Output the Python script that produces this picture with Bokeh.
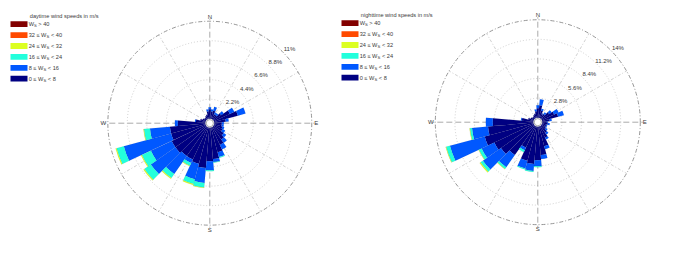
import math
from bokeh.plotting import figure
from bokeh.models import ColumnDataSource, Range1d
from bokeh.layouts import row
from bokeh.embed import file_html
from bokeh.resources import INLINE
from bokeh.core.properties import value

# ---------------- data ----------------
directions = [0, 10, 20, 30, 40, 50, 60, 70, 80, 90, 100, 110,
              120, 130, 140, 150, 160, 170, 180, 190, 200, 210, 220, 230,
              240, 250, 260, 270, 280, 290, 300, 310, 320, 330, 340, 350]

# legend rows (top to bottom): prefix, subscript, suffix
legend_rows = [("W", "S", "> 40"), ("32 \u2264 W", "S", "< 40"), ("24 \u2264 W", "S", "< 32"),
               ("16 \u2264 W", "S", "< 24"), ("8 \u2264 W", "S", "< 16"), ("0 \u2264 W", "S", "< 8")]
# colours of the speed classes 0-8, 8-16, 16-24, 24-32, 32-40, >40
class_colors = ["#000082", "#0058ff", "#22ffdc", "#dcff22", "#ff4a00", "#820000"]

day_title = "daytime wind speeds in m/s"
night_title = "nighttime wind speeds in m/s"

day_ticks = [2.2, 4.4, 6.6, 8.8, 11]
day_tick_labels = ["2.2%", "4.4%", "6.6%", "8.8%", "11%"]
night_ticks = [2.8, 5.6, 8.4, 11.2, 14]
night_tick_labels = ["2.8%", "5.6%", "8.4%", "11.2%", "14%"]

# frequencies in % per direction and speed class (daytime)
day_0_8 = [1.07, 0.85, 0.96, 0.62, 0.62, 1.07, 1.98, 2.77, 1.30, 0.85, 0.85, 0.96,
           1.07, 1.41, 1.75, 2.20, 2.88, 3.56, 3.78, 4.57, 4.23, 4.01, 4.01, 4.23,
           4.23, 4.01, 4.01, 3.10, 1.07, 0.62, 0.40, 0.28, 0.28, 0.40, 0.51, 0.85]
day_8_16 = [0.23, 0.23, 0.45, 0.23, 0.23, 0.34, 0.56, 0.90, 0.34, 0.23, 0.23, 0.23,
            0.34, 0.34, 0.45, 0.56, 0.56, 0.34, 1.02, 1.69, 1.81, 0.45, 2.48, 3.39,
            2.60, 5.53, 2.26, 0.34, 0.11, 0.00, 0.00, 0.00, 0.00, 0.00, 0.00, 0.23]
day_16_24 = [0.00, 0.00, 0.00, 0.00, 0.00, 0.00, 0.00, 0.00, 0.00, 0.00, 0.00, 0.00,
             0.00, 0.00, 0.00, 0.00, 0.11, 0.06, 0.11, 0.51, 0.56, 0.34, 0.56, 0.90,
             1.13, 0.85, 0.68, 0.00, 0.00, 0.00, 0.00, 0.00, 0.00, 0.00, 0.00, 0.00]
day_24_32 = [0.00, 0.00, 0.00, 0.00, 0.00, 0.00, 0.00, 0.00, 0.00, 0.00, 0.00, 0.00,
             0.00, 0.00, 0.00, 0.00, 0.00, 0.00, 0.00, 0.06, 0.11, 0.06, 0.11, 0.11,
             0.11, 0.11, 0.06, 0.00, 0.00, 0.00, 0.00, 0.00, 0.00, 0.00, 0.00, 0.00]
day_32_40 = [0.00, 0.00, 0.00, 0.00, 0.00, 0.00, 0.00, 0.00, 0.00, 0.00, 0.00, 0.00,
             0.00, 0.00, 0.00, 0.00, 0.00, 0.00, 0.00, 0.00, 0.00, 0.00, 0.00, 0.00,
             0.00, 0.00, 0.00, 0.00, 0.00, 0.00, 0.00, 0.00, 0.00, 0.00, 0.00, 0.00]
day_40_up = [0.00, 0.00, 0.00, 0.00, 0.00, 0.00, 0.00, 0.00, 0.00, 0.00, 0.00, 0.00,
             0.00, 0.00, 0.00, 0.00, 0.00, 0.00, 0.00, 0.00, 0.00, 0.00, 0.00, 0.00,
             0.00, 0.00, 0.00, 0.00, 0.00, 0.00, 0.00, 0.00, 0.00, 0.00, 0.00, 0.00]

# nighttime
night_0_8 = [1.36, 1.79, 1.07, 0.64, 0.79, 1.36, 1.93, 2.36, 1.07, 0.64, 0.79, 0.64,
             0.64, 0.79, 1.21, 1.79, 2.93, 4.07, 4.79, 5.36, 5.07, 3.36, 5.07, 5.79,
             6.21, 7.21, 6.50, 5.79, 1.64, 0.79, 0.50, 0.36, 0.36, 0.50, 0.64, 0.93]
night_8_16 = [0.43, 0.86, 0.29, 0.14, 0.29, 0.43, 0.71, 0.86, 0.29, 0.14, 0.29, 0.14,
              0.14, 0.29, 0.29, 0.29, 0.43, 0.57, 0.86, 1.00, 1.14, 0.43, 2.14, 3.14,
              2.00, 5.14, 2.29, 1.00, 0.14, 0.00, 0.00, 0.00, 0.00, 0.00, 0.00, 0.29]
night_16_24 = [0.00, 0.00, 0.00, 0.00, 0.00, 0.00, 0.00, 0.00, 0.00, 0.00, 0.00, 0.00,
               0.00, 0.00, 0.00, 0.00, 0.00, 0.00, 0.14, 0.14, 0.14, 0.29, 0.29, 0.43,
               0.43, 0.57, 0.29, 0.00, 0.00, 0.00, 0.00, 0.00, 0.00, 0.00, 0.00, 0.00]
night_24_32 = [0.00, 0.00, 0.00, 0.00, 0.00, 0.00, 0.00, 0.00, 0.00, 0.00, 0.00, 0.00,
               0.00, 0.00, 0.00, 0.00, 0.00, 0.00, 0.00, 0.00, 0.00, 0.00, 0.07, 0.14,
               0.07, 0.07, 0.07, 0.00, 0.00, 0.00, 0.00, 0.00, 0.00, 0.00, 0.00, 0.00]
night_32_40 = [0.00, 0.00, 0.00, 0.00, 0.00, 0.00, 0.00, 0.00, 0.00, 0.00, 0.00, 0.00,
               0.00, 0.00, 0.00, 0.00, 0.00, 0.00, 0.00, 0.00, 0.00, 0.00, 0.00, 0.00,
               0.00, 0.00, 0.00, 0.00, 0.00, 0.00, 0.00, 0.00, 0.00, 0.00, 0.00, 0.00]
night_40_up = [0.00, 0.00, 0.00, 0.00, 0.00, 0.00, 0.00, 0.00, 0.00, 0.00, 0.00, 0.00,
               0.00, 0.00, 0.00, 0.00, 0.00, 0.00, 0.00, 0.00, 0.00, 0.00, 0.00, 0.00,
               0.00, 0.00, 0.00, 0.00, 0.00, 0.00, 0.00, 0.00, 0.00, 0.00, 0.00, 0.00]

# ---------------- drawing ----------------
FONT = "Liberation Sans"
CHAR_W = {" ": 0.278, "\u2264": 0.584, "<": 0.584, ">": 0.584, "W": 0.944, "S": 0.667}
TXT = "#3a3a3a"
PAGE_TOP = 0  # page-pixel position of the figures' top edge


def text_w(s, size):
    return sum(CHAR_W.get(ch, 0.556) for ch in s) * size


def make_rose(classes, ticks, tick_labels, title, ppu, cx, cy, fig_left, width,
              leg_left, leg_top):
    height = 256
    hole = 4.5 / ppu
    x0 = -(cx - fig_left) / ppu
    x1 = x0 + width / ppu
    y1 = (cy - PAGE_TOP) / ppu
    y0 = y1 - height / ppu

    def dx(px):
        return px / ppu

    def to_data(px, py):
        return x0 + (px - fig_left) / ppu, y1 - (py - PAGE_TOP) / ppu

    p = figure(width=width, height=height, x_range=Range1d(x0, x1), y_range=Range1d(y0, y1),
               output_backend="svg", toolbar_location=None, min_border=0,
               x_axis_location=None, y_axis_location=None)
    p.grid.visible = False
    p.outline_line_color = None
    p.background_fill_color = "white"
    p.border_fill_color = "white"

    R = hole + ticks[-1]
    # inner rings
    p.circle(x=[0] * (len(ticks) - 1), y=[0] * (len(ticks) - 1),
             radius=[hole + t for t in ticks[:-1]], fill_color=None,
             line_color="#c4c4c4", line_dash="1 2", line_width=0.8)
    # spokes every 30 deg
    sb = [30, 60, 120, 150, 210, 240, 300, 330]
    p.segment(x0=[hole * math.sin(math.radians(b)) for b in sb],
              y0=[hole * math.cos(math.radians(b)) for b in sb],
              x1=[R * math.sin(math.radians(b)) for b in sb],
              y1=[R * math.cos(math.radians(b)) for b in sb],
              line_color="#c4c4c4", line_dash="3 2 1 2", line_width=0.8)
    # main axes
    ra = R + dx(2.5)
    ab = [0, 90, 180, 270]
    p.segment(x0=[hole * math.sin(math.radians(b)) for b in ab],
              y0=[hole * math.cos(math.radians(b)) for b in ab],
              x1=[ra * math.sin(math.radians(b)) for b in ab],
              y1=[ra * math.cos(math.radians(b)) for b in ab],
              line_color="#a0a0a0", line_dash="6 3", line_width=0.9)
    # outer circle
    p.circle(x=[0], y=[0], radius=[R], fill_color=None, line_color="#8a8a8a",
             line_dash="4 2 1 2", line_width=0.9)

    # bars
    n = len(directions)
    base = [hole] * n
    for vals, col in zip(classes, class_colors):
        idx = [i for i in range(n) if vals[i] > 0]
        if idx:
            src = ColumnDataSource(dict(
                inner=[base[i] for i in idx],
                outer=[base[i] + vals[i] for i in idx],
                start=[math.radians(90 - directions[i] - 5) for i in idx],
                end=[math.radians(90 - directions[i] + 5) for i in idx],
            ))
            p.annular_wedge(x=0, y=0, inner_radius="inner", outer_radius="outer",
                            start_angle="start", end_angle="end", source=src,
                            fill_color=col, line_color="#000000", line_alpha=0.12,
                            line_width=0.4)
        base = [base[i] + vals[i] for i in range(n)]

    # centre hole
    p.circle(x=[0], y=[0], radius=[hole * 0.8], fill_color="white",
             line_color="#909090", line_width=0.8)

    # compass labels
    rl = R + dx(4.5)
    p.text(x=[0, rl, 0, -rl], y=[rl, 0, -rl, 0], text=["N", "E", "S", "W"],
           text_font=value(FONT), text_font_size="6px", text_color=TXT,
           text_align="center", text_baseline="middle")
    # ring labels
    lb = math.radians(47)
    rr = [hole + t + dx(7) for t in ticks]
    p.text(x=[r * math.sin(lb) for r in rr], y=[r * math.cos(lb) for r in rr],
           text=tick_labels, text_font=value(FONT), text_font_size="6px",
           text_color=TXT, text_align="center", text_baseline="middle")

    # legend
    tx, ty = to_data(leg_left + 19.3, leg_top - 8.5)
    p.text(x=[tx], y=[ty], text=[title], text_font=value(FONT), text_font_size="5.6px",
           text_color=TXT, text_align="left", text_baseline="middle")
    fs, sfs = 5.6, 4.2
    sp = text_w(" ", fs)
    for k, (pre, sub, suf) in enumerate(legend_rows):
        col = class_colors[len(class_colors) - 1 - k]
        pyc = leg_top + 10.9 * k
        bx, by = to_data(leg_left + 8.5, pyc)
        p.rect(x=[bx], y=[by], width=dx(17), height=dx(5.8), fill_color=col, line_color=None)
        lx, ly = to_data(leg_left + 18.2, pyc)
        p.text(x=[lx], y=[ly], text=[pre], text_font=value(FONT), text_font_size="5.6px",
               text_color=TXT, text_align="left", text_baseline="middle")
        w1 = text_w(pre, fs)
        sx, sy = to_data(leg_left + 18.2 + w1, pyc + 1.6)
        p.text(x=[sx], y=[sy], text=[sub], text_font=value(FONT), text_font_size="4.2px",
               text_color=TXT, text_align="left", text_baseline="middle")
        w2 = text_w(sub, sfs)
        ex, ey = to_data(leg_left + 18.2 + w1 + w2 + sp, pyc)
        p.text(x=[ex], y=[ey], text=[suf], text_font=value(FONT), text_font_size="5.6px",
               text_color=TXT, text_align="left", text_baseline="middle")
    return p


day_classes = [day_0_8, day_8_16, day_16_24, day_24_32, day_32_40, day_40_up]
night_classes = [night_0_8, night_8_16, night_16_24, night_24_32, night_32_40, night_40_up]

p1 = make_rose(day_classes, day_ticks, day_tick_labels, day_title,
               ppu=8.86, cx=209.3, cy=122.7, fig_left=0, width=340,
               leg_left=10, leg_top=23.7)
p2 = make_rose(night_classes, night_ticks, night_tick_labels, night_title,
               ppu=7.0, cx=537.3, cy=121.7, fig_left=340, width=341,
               leg_left=341, leg_top=22.7)

layout = row(p1, p2)
open("out.html", "w").write(file_html(layout, INLINE))
